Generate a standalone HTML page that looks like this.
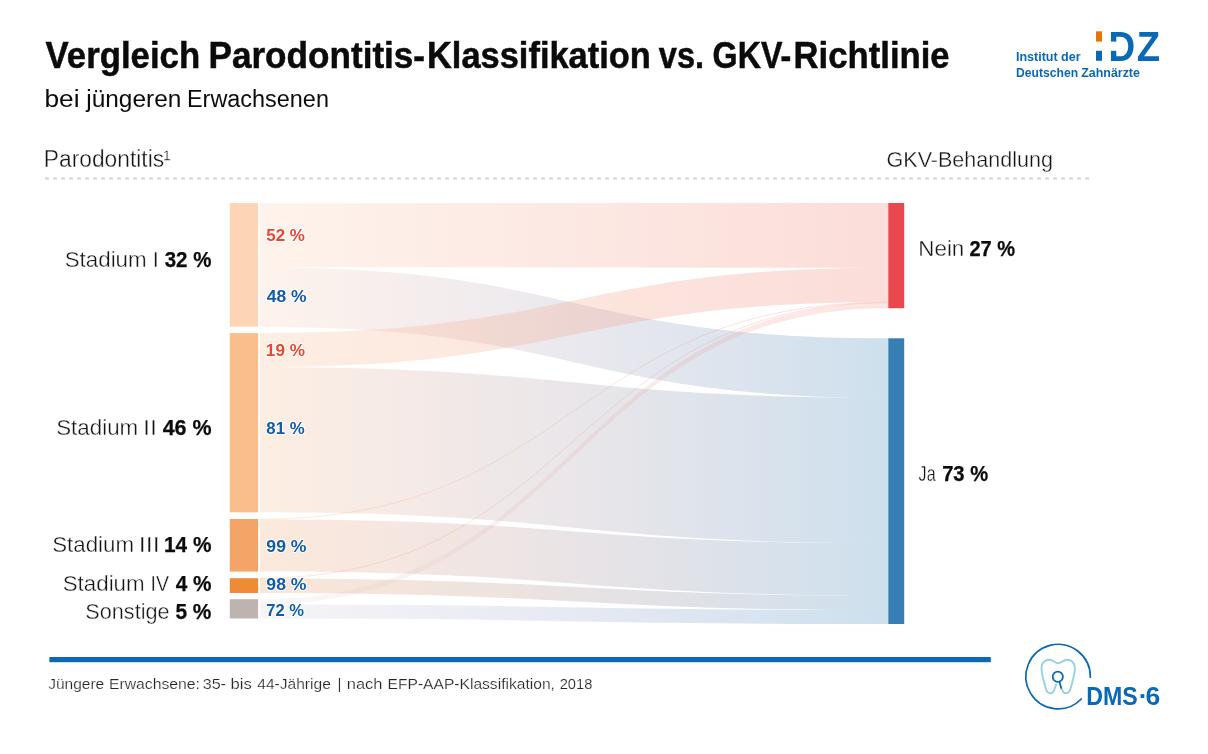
<!DOCTYPE html>
<html lang="de"><head><meta charset="utf-8"><title>Vergleich Parodontitis-Klassifikation vs. GKV-Richtlinie</title>
<style>
html,body{margin:0;padding:0;background:#fff;}
body{width:1208px;height:754px;overflow:hidden;}

svg{display:block;font-family:"Liberation Sans",sans-serif;}
text{white-space:pre;}
.lt{stroke:#fff;stroke-width:0.35px;}
.lt2{stroke:#fff;stroke-width:0.2px;}
.hd{stroke:#0b0b0b;stroke-width:0.5px;}
.bd{stroke:#0b0b0b;stroke-width:0.25px;}
.pc{paint-order:stroke;stroke:#fff;stroke-width:2px;stroke-linejoin:round;stroke-opacity:0.85;}

</style></head><body>
<svg width="1208" height="754" viewBox="0 0 1208 754">
<defs>
<linearGradient id="gS1N" gradientUnits="userSpaceOnUse" x1="260.0" y1="0" x2="888.3" y2="0"><stop offset="0" stop-color="#fbcfb3"/><stop offset="0.25" stop-color="#f8b9a0"/><stop offset="0.5" stop-color="#f5a38d"/><stop offset="0.75" stop-color="#f28d7a"/><stop offset="1" stop-color="#ef7767"/></linearGradient>
<linearGradient id="gS1J" gradientUnits="userSpaceOnUse" x1="260.0" y1="0" x2="888.3" y2="0"><stop offset="0" stop-color="#fbcfb3"/><stop offset="0.25" stop-color="#d8b9b8"/><stop offset="0.5" stop-color="#aba5bb"/><stop offset="0.75" stop-color="#7693ba"/><stop offset="1" stop-color="#3783b7"/></linearGradient>
<linearGradient id="gS2N" gradientUnits="userSpaceOnUse" x1="260.0" y1="0" x2="888.3" y2="0"><stop offset="0" stop-color="#f7bb8f"/><stop offset="0.25" stop-color="#f5aa85"/><stop offset="0.5" stop-color="#f3997b"/><stop offset="0.75" stop-color="#f18871"/><stop offset="1" stop-color="#ef7767"/></linearGradient>
<linearGradient id="gS2J" gradientUnits="userSpaceOnUse" x1="260.0" y1="0" x2="888.3" y2="0"><stop offset="0" stop-color="#f7bb8f"/><stop offset="0.25" stop-color="#d4aa9e"/><stop offset="0.5" stop-color="#a99ba9"/><stop offset="0.75" stop-color="#748eb2"/><stop offset="1" stop-color="#3783b7"/></linearGradient>
<linearGradient id="gS3N" gradientUnits="userSpaceOnUse" x1="260.0" y1="0" x2="888.3" y2="0"><stop offset="0" stop-color="#f3a773"/><stop offset="0.25" stop-color="#f29b70"/><stop offset="0.5" stop-color="#f18f6d"/><stop offset="0.75" stop-color="#f0836a"/><stop offset="1" stop-color="#ef7767"/></linearGradient>
<linearGradient id="gS3J" gradientUnits="userSpaceOnUse" x1="260.0" y1="0" x2="888.3" y2="0"><stop offset="0" stop-color="#f3a773"/><stop offset="0.25" stop-color="#d29b88"/><stop offset="0.5" stop-color="#a7919b"/><stop offset="0.75" stop-color="#7489aa"/><stop offset="1" stop-color="#3783b7"/></linearGradient>
<linearGradient id="gS4N" gradientUnits="userSpaceOnUse" x1="260.0" y1="0" x2="888.3" y2="0"><stop offset="0" stop-color="#ef9b5b"/><stop offset="0.25" stop-color="#ef925e"/><stop offset="0.5" stop-color="#ef8961"/><stop offset="0.75" stop-color="#ef8064"/><stop offset="1" stop-color="#ef7767"/></linearGradient>
<linearGradient id="gS4J" gradientUnits="userSpaceOnUse" x1="260.0" y1="0" x2="888.3" y2="0"><stop offset="0" stop-color="#ef9b5b"/><stop offset="0.25" stop-color="#ce9276"/><stop offset="0.5" stop-color="#a58b8f"/><stop offset="0.75" stop-color="#7286a4"/><stop offset="1" stop-color="#3783b7"/></linearGradient>
<linearGradient id="gS5N" gradientUnits="userSpaceOnUse" x1="260.0" y1="0" x2="888.3" y2="0"><stop offset="0" stop-color="#d7d7db"/><stop offset="0.25" stop-color="#ddbfbe"/><stop offset="0.5" stop-color="#e3a7a1"/><stop offset="0.75" stop-color="#e98f84"/><stop offset="1" stop-color="#ef7767"/></linearGradient>
<linearGradient id="gS5J" gradientUnits="userSpaceOnUse" x1="260.0" y1="0" x2="888.3" y2="0"><stop offset="0" stop-color="#d7d7db"/><stop offset="0.25" stop-color="#bcbfd6"/><stop offset="0.5" stop-color="#99a9cf"/><stop offset="0.75" stop-color="#6c95c4"/><stop offset="1" stop-color="#3783b7"/></linearGradient>
</defs>
<rect width="1208" height="754" fill="#fff"/>
<line x1="45" y1="178.5" x2="1089" y2="178.5" stroke="#d3d3d3" stroke-width="2" stroke-dasharray="4 4"/>
<g>
<path d="M260.0,203.10 C574.1,203.10 574.1,203.00 888.3,203.00 L888.3,267.67 C574.1,267.67 574.1,267.37 260.0,267.37 Z" fill="url(#gS1N)" opacity="0.25"/>
<path d="M260.0,267.37 C574.1,267.37 574.1,338.30 888.3,338.30 L888.3,397.78 C574.1,397.78 574.1,326.70 260.0,326.70 Z" fill="url(#gS1J)" opacity="0.25"/>
<path d="M260.0,333.10 C574.1,333.10 574.1,267.67 888.3,267.67 L888.3,301.94 C574.1,301.94 574.1,367.15 260.0,367.15 Z" fill="url(#gS2N)" opacity="0.25"/>
<path d="M260.0,367.15 C574.1,367.15 574.1,397.78 888.3,397.78 L888.3,543.32 C574.1,543.32 574.1,512.30 260.0,512.30 Z" fill="url(#gS2J)" opacity="0.25"/>
<path d="M260.0,519.26 C574.1,519.26 574.1,302.20 888.3,302.20" fill="none" stroke="url(#gS3N)" stroke-width="0.9" opacity="0.25"/>
<path d="M260.0,519.53 C574.1,519.53 574.1,543.32 888.3,543.32 L888.3,595.53 C574.1,595.53 574.1,571.60 260.0,571.60 Z" fill="url(#gS3J)" opacity="0.25"/>
<path d="M260.0,578.35 C574.1,578.35 574.1,302.61 888.3,302.61" fill="none" stroke="url(#gS4N)" stroke-width="0.9" opacity="0.25"/>
<path d="M260.0,578.50 C574.1,578.50 574.1,595.53 888.3,595.53 L888.3,610.07 C574.1,610.07 574.1,593.00 260.0,593.00 Z" fill="url(#gS4J)" opacity="0.25"/>
<path d="M260.0,599.20 C574.1,599.20 574.1,302.76 888.3,302.76 L888.3,308.20 C574.1,308.20 574.1,604.60 260.0,604.60 Z" fill="url(#gS5N)" opacity="0.19"/>
<path d="M260.0,604.60 C574.1,604.60 574.1,610.07 888.3,610.07 L888.3,624.00 C574.1,624.00 574.1,618.50 260.0,618.50 Z" fill="url(#gS5J)" opacity="0.25"/>
</g>
<g>
<rect x="229.8" y="203.1" width="28.3" height="123.60" fill="#fdd5b5"/>
<rect x="229.8" y="333.1" width="28.3" height="179.20" fill="#fabd8c"/>
<rect x="229.8" y="519.0" width="28.3" height="52.60" fill="#f5a468"/>
<rect x="229.8" y="578.2" width="28.3" height="14.80" fill="#ef8a35"/>
<rect x="229.8" y="599.2" width="28.3" height="19.30" fill="#bdb4b1"/>
<rect x="888.3" y="203.0" width="15.9" height="105.20" fill="#e9484f"/>
<rect x="888.3" y="338.3" width="15.9" height="285.70" fill="#377eb5"/>
</g>
<rect x="49.4" y="657" width="941.4" height="5.2" fill="#0b68b4"/>
<g>
<text><tspan x="45.62" y="67.7" font-size="36" font-weight="700" fill="#0b0b0b" textLength="154.51" lengthAdjust="spacingAndGlyphs" class="hd">Vergleich</tspan> <tspan x="208.50" y="67.7" font-size="36" font-weight="700" fill="#0b0b0b" textLength="216.57" lengthAdjust="spacingAndGlyphs" class="hd">Parodontitis-</tspan><tspan x="427.00" y="67.7" font-size="36" font-weight="700" fill="#0b0b0b" textLength="223.86" lengthAdjust="spacingAndGlyphs" class="hd">Klassifikation</tspan> <tspan x="658.86" y="67.7" font-size="36" font-weight="700" fill="#0b0b0b" textLength="45.25" lengthAdjust="spacingAndGlyphs" class="hd">vs.</tspan> <tspan x="712.61" y="67.7" font-size="36" font-weight="700" fill="#0b0b0b" textLength="78.73" lengthAdjust="spacingAndGlyphs" class="hd">GKV-</tspan><tspan x="793.58" y="67.7" font-size="36" font-weight="700" fill="#0b0b0b" textLength="156.09" lengthAdjust="spacingAndGlyphs" class="hd">Richtlinie</tspan></text>
<text><tspan x="44.52" y="106.7" font-size="23" font-weight="400" fill="#0b0b0b" textLength="35.03" lengthAdjust="spacingAndGlyphs">bei</tspan> <tspan x="86.27" y="106.7" font-size="23" font-weight="400" fill="#0b0b0b" textLength="95.05" lengthAdjust="spacingAndGlyphs">jüngeren</tspan> <tspan x="187.00" y="106.7" font-size="23" font-weight="400" fill="#0b0b0b" textLength="141.91" lengthAdjust="spacingAndGlyphs">Erwachsenen</tspan></text>
<text><tspan x="43.85" y="167.1" font-size="23" font-weight="400" fill="#141414" textLength="120.24" lengthAdjust="spacingAndGlyphs" class="lt">Parodontitis</tspan><tspan x="163.23" y="165.6" font-size="22" font-weight="400" fill="#141414" class="lt">¹</tspan></text>
<text><tspan x="886.52" y="166.9" font-size="21.5" font-weight="400" fill="#141414" textLength="166.43" lengthAdjust="spacingAndGlyphs" class="lt">GKV-Behandlung</tspan></text>
<text><tspan x="64.69" y="267.3" font-size="21.8" font-weight="400" fill="#141414" textLength="81.98" lengthAdjust="spacingAndGlyphs" class="lt">Stadium</tspan> <tspan x="152.74" y="267.3" font-size="21.8" font-weight="400" fill="#141414" class="lt">I</tspan> <tspan x="164.71" y="267.3" font-size="21.8" font-weight="700" fill="#0b0b0b" textLength="46.67" lengthAdjust="spacingAndGlyphs" class="bd">32 %</tspan></text>
<text><tspan x="56.22" y="435.3" font-size="21.8" font-weight="400" fill="#141414" textLength="81.97" lengthAdjust="spacingAndGlyphs" class="lt">Stadium</tspan> <tspan x="142.90" y="435.3" font-size="21.8" font-weight="400" fill="#141414" textLength="14.16" lengthAdjust="spacingAndGlyphs" class="lt">II</tspan> <tspan x="162.64" y="435.3" font-size="21.8" font-weight="700" fill="#0b0b0b" textLength="48.89" lengthAdjust="spacingAndGlyphs" class="bd">46 %</tspan></text>
<text><tspan x="52.24" y="552.3" font-size="21.8" font-weight="400" fill="#141414" textLength="81.81" lengthAdjust="spacingAndGlyphs" class="lt">Stadium</tspan> <tspan x="138.75" y="552.3" font-size="21.8" font-weight="400" fill="#141414" textLength="20.95" lengthAdjust="spacingAndGlyphs" class="lt">III</tspan> <tspan x="164.02" y="552.3" font-size="21.8" font-weight="700" fill="#0b0b0b" textLength="47.46" lengthAdjust="spacingAndGlyphs" class="bd">14 %</tspan></text>
<text><tspan x="62.69" y="590.7" font-size="21.8" font-weight="400" fill="#141414" textLength="81.98" lengthAdjust="spacingAndGlyphs" class="lt">Stadium</tspan> <tspan x="150.56" y="590.7" font-size="21.8" font-weight="400" fill="#141414" textLength="18.43" lengthAdjust="spacingAndGlyphs" class="lt">IV</tspan> <tspan x="175.66" y="590.7" font-size="21.8" font-weight="700" fill="#0b0b0b" textLength="35.77" lengthAdjust="spacingAndGlyphs" class="bd">4 %</tspan></text>
<text><tspan x="85.26" y="618.5" font-size="21.8" font-weight="400" fill="#141414" textLength="84.35" lengthAdjust="spacingAndGlyphs" class="lt">Sonstige</tspan> <tspan x="175.48" y="618.5" font-size="21.8" font-weight="700" fill="#0b0b0b" textLength="35.94" lengthAdjust="spacingAndGlyphs" class="bd">5 %</tspan></text>
<text><tspan x="918.36" y="255.6" font-size="21.8" font-weight="400" fill="#141414" textLength="45.93" lengthAdjust="spacingAndGlyphs" class="lt">Nein</tspan> <tspan x="969.41" y="255.6" font-size="21.8" font-weight="700" fill="#0b0b0b" textLength="45.73" lengthAdjust="spacingAndGlyphs" class="bd">27 %</tspan></text>
<text><tspan x="918.59" y="481" font-size="21.8" font-weight="400" fill="#141414" textLength="17.00" lengthAdjust="spacingAndGlyphs" class="lt">Ja</tspan> <tspan x="942.14" y="481" font-size="21.8" font-weight="700" fill="#0b0b0b" textLength="46.06" lengthAdjust="spacingAndGlyphs" class="bd">73 %</tspan></text>
<text><tspan x="266.29" y="240.5" font-size="17" font-weight="700" fill="#e5472f" textLength="38.65" lengthAdjust="spacingAndGlyphs" class="pc">52 %</tspan></text>
<text><tspan x="266.76" y="302" font-size="17" font-weight="700" fill="#0f5ca8" textLength="39.76" lengthAdjust="spacingAndGlyphs" class="pc">48 %</tspan></text>
<text><tspan x="265.89" y="355.5" font-size="17" font-weight="700" fill="#e5472f" textLength="39.08" lengthAdjust="spacingAndGlyphs" class="pc">19 %</tspan></text>
<text><tspan x="266.33" y="434" font-size="17" font-weight="700" fill="#0f5ca8" textLength="38.21" lengthAdjust="spacingAndGlyphs" class="pc">81 %</tspan></text>
<text><tspan x="266.35" y="551.5" font-size="17" font-weight="700" fill="#0f5ca8" textLength="40.18" lengthAdjust="spacingAndGlyphs" class="pc">99 %</tspan></text>
<text><tspan x="266.35" y="590" font-size="17" font-weight="700" fill="#0f5ca8" textLength="40.18" lengthAdjust="spacingAndGlyphs" class="pc">98 %</tspan></text>
<text><tspan x="266.32" y="616" font-size="17" font-weight="700" fill="#0f5ca8" textLength="37.70" lengthAdjust="spacingAndGlyphs" class="pc">72 %</tspan></text>
<text><tspan x="48.16" y="689.4" font-size="15" font-weight="400" fill="#262626" textLength="56.06" lengthAdjust="spacingAndGlyphs" class="lt2">Jüngere</tspan> <tspan x="108.94" y="689.4" font-size="15" font-weight="400" fill="#262626" textLength="91.01" lengthAdjust="spacingAndGlyphs" class="lt2">Erwachsene:</tspan> <tspan x="202.68" y="689.4" font-size="15" font-weight="400" fill="#262626" textLength="23.33" lengthAdjust="spacingAndGlyphs" class="lt2">35-</tspan> <tspan x="230.57" y="689.4" font-size="15" font-weight="400" fill="#262626" textLength="21.28" lengthAdjust="spacingAndGlyphs" class="lt2">bis</tspan> <tspan x="257.24" y="689.4" font-size="15" font-weight="400" fill="#262626" textLength="73.58" lengthAdjust="spacingAndGlyphs" class="lt2">44-Jährige</tspan> <tspan x="337.60" y="689.4" font-size="15" font-weight="400" fill="#262626" class="lt2">|</tspan> <tspan x="346.77" y="689.4" font-size="15" font-weight="400" fill="#262626" textLength="35.70" lengthAdjust="spacingAndGlyphs" class="lt2">nach</tspan> <tspan x="387.55" y="689.4" font-size="15" font-weight="400" fill="#262626" textLength="167.38" lengthAdjust="spacingAndGlyphs" class="lt2">EFP-AAP-Klassifikation,</tspan> <tspan x="559.63" y="689.4" font-size="15" font-weight="400" fill="#262626" textLength="32.73" lengthAdjust="spacingAndGlyphs" class="lt2">2018</tspan></text>
</g>

<g>
<text><tspan x="1015.93" y="61.2" font-size="12" font-weight="700" fill="#0a69b4" textLength="41.69" lengthAdjust="spacingAndGlyphs">Institut</tspan> <tspan x="1061.14" y="61.2" font-size="12" font-weight="700" fill="#0a69b4" textLength="19.56" lengthAdjust="spacingAndGlyphs">der</tspan></text>
<text><tspan x="1016.10" y="76.8" font-size="12" font-weight="700" fill="#0a69b4" textLength="62.03" lengthAdjust="spacingAndGlyphs">Deutschen</tspan> <tspan x="1081.19" y="76.8" font-size="12" font-weight="700" fill="#0a69b4" textLength="58.74" lengthAdjust="spacingAndGlyphs">Zahnärzte</tspan></text>
<rect x="1096" y="31.3" width="6" height="10.3" fill="#ee7203"/>
<rect x="1096" y="50.8" width="6" height="10" fill="#0a69b4"/>
<text transform="translate(1108.53 60.8) scale(0.8500 1)" font-size="43.4" font-weight="700" fill="#0a69b4">D</text>
<text transform="translate(1136.72 60.8) scale(0.8800 1)" font-size="43.4" font-weight="700" fill="#0a69b4">Z</text>
<rect x="1108" y="41.6" width="9.6" height="9.2" fill="#fff"/>
</g>

<g fill="none" stroke-linecap="round" stroke-linejoin="round">
<path d="M1081.26,698.97 A32.2,32.2 0 1 1 1090.30,677.16" stroke="#0a69b4" stroke-width="1.7"/>
<path d="M1056.2,684.2 C1055.4,686 1054.8,688.2 1054.2,690 C1053.4,692.2 1052.2,693.3 1050.3,693.3 C1048,693.3 1046.6,691.6 1045.8,688.6 C1044.8,685 1043.8,681 1042.8,677 C1041.6,672.4 1040.6,667.6 1042.4,664 C1044,660.9 1047,659.8 1049.6,659.8 C1053,659.8 1055.4,663.3 1058.2,663.3 C1061,663.3 1063.4,659.8 1066.8,659.8 C1069.4,659.8 1072.4,660.9 1074,664 C1075.8,667.6 1074.8,672.4 1073.6,677 C1072.6,681 1071.6,685 1070.6,688.6 C1069.8,691.6 1068.4,693.3 1066.1,693.3 C1064.2,693.3 1063,692.2 1062.2,690 C1061.9,689.3 1061.6,688.6 1061.3,687.9" stroke="#96d2de" stroke-width="1.9"/>
<circle cx="1057.8" cy="676.8" r="5.1" stroke="#0a69b4" stroke-width="1.8"/>
<path d="M1059.5,681.9 L1061.2,688" stroke="#0a69b4" stroke-width="1.8"/>
</g>
<text><tspan x="1086.19" y="705" font-size="26.5" font-weight="700" fill="#0a69b4" textLength="51.54" lengthAdjust="spacingAndGlyphs">DMS</tspan><tspan x="1138.83" y="705" font-size="26.5" font-weight="700" fill="#0a69b4">·</tspan><tspan x="1145.60" y="705" font-size="26.5" font-weight="700" fill="#0a69b4">6</tspan></text>

</svg>
</body></html>
